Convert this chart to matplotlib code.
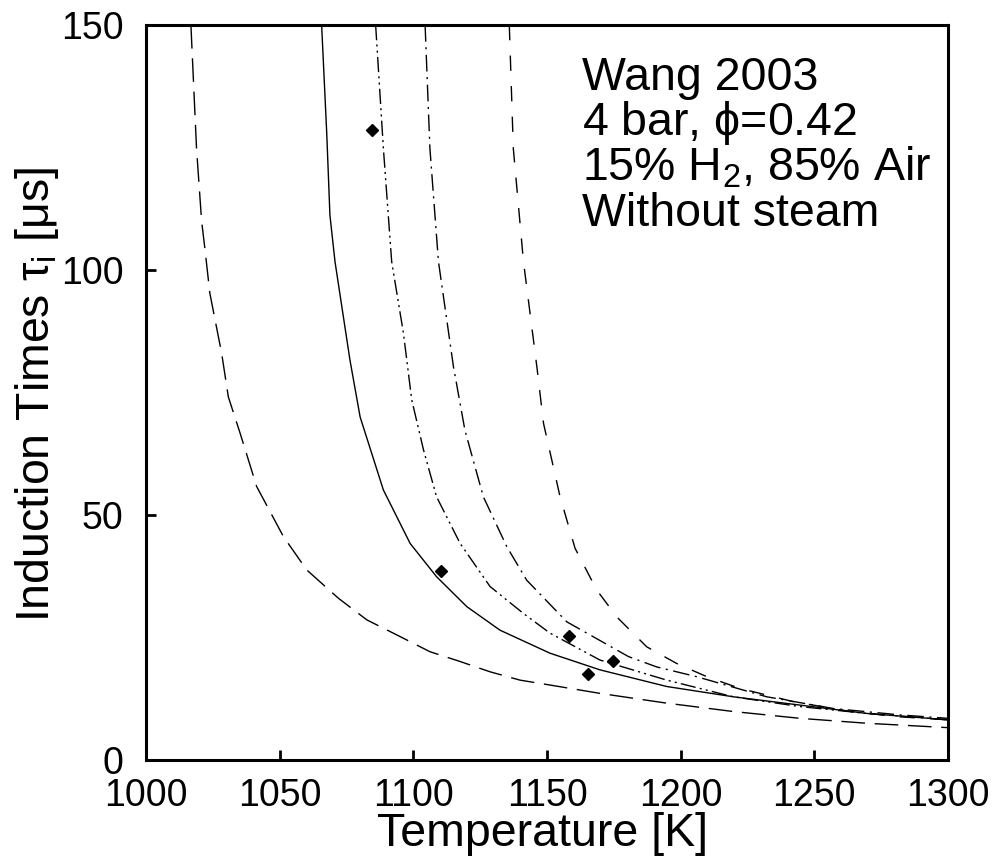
import numpy as np
import matplotlib
matplotlib.use("Agg")
import matplotlib.pyplot as plt

plt.rcParams['font.family'] = ['Liberation Sans', 'DejaVu Sans']
plt.rcParams['mathtext.fontset'] = 'custom'
plt.rcParams['mathtext.rm'] = 'Liberation Sans'
plt.rcParams['mathtext.it'] = 'Liberation Sans'

# --- curves (T in K, tau in microseconds) ---
T_longdash = [1016.8, 1018.9, 1020.8, 1022, 1023.9, 1028.3, 1030.8, 1035.2, 1041.4, 1051.4, 1060.1,
              1072, 1082.6, 1095, 1106.2, 1117.5, 1128.7, 1139.9, 1151.1, 1169.8, 1194.8, 1219.6,
              1244.7, 1269.6, 1300]
tau_longdash = [150, 124.8, 110, 104.5, 95.2, 83, 74.1, 66.7, 55.8, 45.6, 38.8,
                33, 28.6, 25.2, 22.1, 20.1, 18.0, 16.3, 15.3, 13.6, 11.6, 9.9,
                8.5, 7.5, 6.6]

T_solid = [1065.7, 1067.6, 1068.8, 1070.7, 1076.3, 1080.1, 1088.8, 1098.8, 1108.7, 1120, 1132.4,
           1151.1, 1169.8, 1194.8, 1219.7, 1244.7, 1269.6, 1300]
tau_solid = [150, 128, 111.2, 101.7, 81.6, 70, 55.1, 44.2, 37.4, 31.3, 26.5,
             21.8, 18.4, 15.0, 12.9, 11.2, 9.5, 8.2]

T_dashdotdot = [1085.9, 1088.8, 1091.9, 1096.3, 1099.4, 1103.8, 1108.7, 1117.5, 1128.7, 1141.2,
                1151.1, 1169.8, 1194.8, 1219.7, 1244.7, 1269.6, 1300]
tau_dashdotdot = [150, 124.8, 101.7, 87.1, 73.5, 63.3, 53.7, 44.2, 35.4, 29.9,
                  25.9, 20.4, 16.3, 12.9, 10.9, 9.5, 8.2]

T_dashdot = [1104.4, 1106.2, 1109.4, 1115, 1119.3, 1126.2, 1135, 1142.4, 1157.4, 1180.5,
             1191, 1206, 1232.2, 1257.2, 1282.1, 1300]
tau_dashdot = [150, 124.8, 101.7, 80.3, 67.3, 53.7, 43.5, 36.7, 28.2, 21.1,
               19.0, 17.0, 12.9, 10.5, 9.2, 8.5]

T_dash = [1135.9, 1137.4, 1141.2, 1146.2, 1148.7, 1154.9, 1160.5, 1168.6, 1176.1, 1187.3,
          1198.5, 1209.8, 1222.2, 1242.2, 1263.4, 1282.1, 1300]
tau_dash = [150, 124.8, 101.7, 80.3, 68.7, 53.7, 43.2, 34.7, 29.2, 23.1,
            19.7, 17.0, 14.6, 11.9, 9.9, 8.8, 8.2]

# experimental points
T_exp = [1084.7, 1110.4, 1158.2, 1174.8, 1165.5]
tau_exp = [128.6, 38.6, 25.3, 20.2, 17.5]

x_ticks = [1000, 1050, 1100, 1150, 1200, 1250, 1300]
y_ticks = [0, 50, 100, 150]

annotation = ["Wang 2003", r"4 bar, $\phi$=0.42", r"15% H$_2$, 85% Air", "Without steam"]

fig = plt.figure(figsize=(9.97, 8.6), dpi=100)
ax = fig.add_axes([146/997, 1 - 760/860, (948-146)/997, (760-25)/860])

lw = 1.0
ax.plot(T_longdash, tau_longdash, color='black', lw=lw, dashes=(17, 7))
ax.plot(T_solid, tau_solid, color='black', lw=lw)
ax.plot(T_dashdotdot, tau_dashdotdot, color='black', lw=lw, dashes=(11, 3, 1.5, 3, 1.5, 3))
ax.plot(T_dashdot, tau_dashdot, color='black', lw=lw, dashes=(12, 4, 1.5, 4))
ax.plot(T_dash, tau_dash, color='black', lw=lw, dashes=(11, 11))
ax.plot(T_exp, tau_exp, linestyle='none', marker='D', color='black', markersize=6.5)

ax.set_xlim(1000, 1300)
ax.set_ylim(0, 150)
ax.set_xticks(x_ticks)
ax.set_yticks(y_ticks)
ax.tick_params(direction='in', length=7, width=2, labelsize=27)
ax.tick_params(axis='y', pad=16)
ax.tick_params(axis='x', pad=13)
for s in ax.spines.values():
    s.set_linewidth(2.2)

ax.set_xlabel("Temperature [K]", fontsize=33.5)
ax.set_ylabel(r"Induction Times $\tau_{\mathrm{i}}$ [$\mu$s]", fontsize=33.5)
ax.xaxis.set_label_coords((543 - 146) / 802, -(846 - 760) / 735)
ax.yaxis.set_label_coords((37 - 146) / 802, (760 - 394) / 735)
ax.xaxis.label.set_va('baseline')
ax.yaxis.label.set_va('center')

y_lines = [0.9116, 0.8497, 0.7878, 0.7259]
for txt, yy in zip(annotation, y_lines):
    ax.text(0.5436, yy, txt, transform=ax.transAxes, fontsize=33.5, va='baseline', ha='left')

fig.savefig("out.png", dpi=100)
